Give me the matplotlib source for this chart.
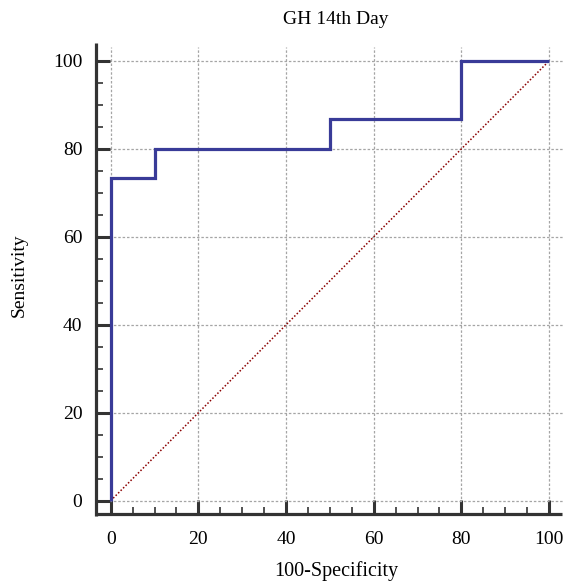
import matplotlib
matplotlib.use("Agg")
import matplotlib.pyplot as plt
from matplotlib.ticker import MultipleLocator

# ROC curve data (100-Specificity, Sensitivity)
fpr = [0, 0, 10, 10, 50, 50, 80, 80, 100]
tpr = [0, 73.3, 73.3, 80, 80, 86.7, 86.7, 100, 100]
diag = [0, 100]
title = "GH 14th Day"
xlabel = "100-Specificity"
ylabel = "Sensitivity"
ticks = [0, 20, 40, 60, 80, 100]

plt.rcParams['font.family'] = ['Liberation Serif', 'DejaVu Serif']

fig = plt.figure(figsize=(5.69, 5.82), dpi=100)
W, H = 569, 582
x0, x100 = 110.7, 549.0
y0, y100 = 500.7, 61.0
sx = (x100 - x0) / 100
sy = (y0 - y100) / 100
lo = -0.5
xmax, ymax = 103.3, 103.2
left_px = x0 + lo * sx
bot_px = y0 - lo * sy
ax = fig.add_axes([left_px / W, 1 - bot_px / H, (xmax - lo) * sx / W, (ymax - lo) * sy / H])

ax.set_xlim(lo, xmax)
ax.set_ylim(lo, ymax)

dark = '#333333'
ax.plot(diag, diag, color='#8b0000', lw=1.1, ls=(0, (1, 1.3)), zorder=2, clip_on=False)
ax.plot(fpr, tpr, color='#393b98', lw=2.3, zorder=3, clip_on=False,
        solid_joinstyle='miter', solid_capstyle='butt')

ax.set_xticks(ticks)
ax.set_yticks(ticks)
ax.xaxis.set_minor_locator(MultipleLocator(5))
ax.yaxis.set_minor_locator(MultipleLocator(5))

ax.grid(True, which='major', color='#a5a5a5', ls=(0, (2.0, 1.5)), lw=0.9, zorder=0)

for s in ['top', 'right']:
    ax.spines[s].set_visible(False)
ax.spines['left'].set_position(('outward', (14.5 + lo * sx) * 72 / 100))
ax.spines['bottom'].set_position(('outward', (13.3 + lo * sy) * 72 / 100))
ax.spines['left'].set_bounds(-15.0 / sy, (y0 - 43) / sy)
ax.spines['bottom'].set_bounds(-16.0 / sx, (562 - x0) / sx)
for s in ['left', 'bottom']:
    ax.spines[s].set_linewidth(2.3)
    ax.spines[s].set_color(dark)
    ax.spines[s].set_capstyle('butt')

ax.tick_params(which='major', direction='in', length=10, width=2.2, color=dark,
               labelsize=14)
ax.tick_params(axis='x', which='major', pad=12)
ax.tick_params(axis='y', which='major', pad=10)
ax.tick_params(which='minor', direction='in', length=5, width=1.2, color=dark)

ax.set_title(title, fontsize=14, pad=16.5)
ax.set_xlabel(xlabel, fontsize=14.5, labelpad=9.5)
ax.set_ylabel(ylabel, fontsize=14, labelpad=18)

fig.savefig("out.png", dpi=100)
